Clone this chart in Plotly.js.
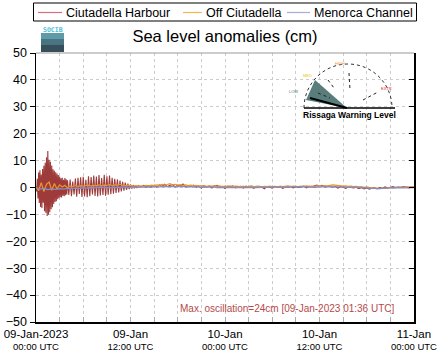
<!DOCTYPE html>
<html>
<head>
<meta charset="utf-8">
<script src="https://cdn.plot.ly/plotly-3.0.1.min.js"></script>
<style>html,body{margin:0;padding:0;background:#fff}#chart{width:442px;height:359px}</style>
</head>
<body>
<div id="chart"></div>
<script>
// ---- data (cm) ----
// Ciutadella Harbour: 0-4 h every 5 min
const harbourA = [0.5,-1.5,3.2,-4.1,5.6,-5.8,6.4,-7.2,4.8,-7.6,6.9,-5.7,8.1,-8.8,9.2,-9.4,11.2,-10.6,13.6,-10.1,10.3,-9.2,9.6,-8.1,8.2,-7.3,6.8,-6.1,6.2,-5.4,5.7,-5.1,5.2,-4.4,4.6,-4.0,4.1,-3.6,3.4,-3.7,3.6,-3.1,2.9,-3.2,3.5,-2.9,3.1,-2.6,2.7];
// 4h10 - 13h every 10 min
const harbourB = [-2.8,3.0,-3.2,2.2,-2.6,3.3,-3.4,3.6,-2.4,3.8,-3.5,4.0,-3.3,2.9,-3.6,4.2,-3.2,3.9,-2.6,4.4,-3.1,4.1,-3.3,4.6,-3.0,3.5,-2.8,4.7,-3.1,4.2,-2.7,4.4,-2.5,3.6,-2.3,3.2,-2.0,3.0,-1.8,2.6,-1.5,2.1,-1.2,1.8,-0.9,1.4,-0.6,1.1,-0.4,0.9,-0.3,0.8,-0.2,0.7];
// 13h20 - 48h every 20 min
const harbourC = [0.2,0.8,0.1,0.7,0.3,0.9,0.2,1.0,0.4,1.2,0.3,0.8,1.1,0.2,0.9,0.5,1.3,0.2,0.7,0.4,0.9,
  0.1,0.6,-0.3,0.7,0.2,0.5,-0.2,0.6,0.8,0.0,0.4,-0.4,0.5,0.2,0.6,-0.1,0.3,0.4,-0.2,0.5,
  0.1,0.3,-0.3,0.4,0.0,0.2,-0.5,0.3,0.1,-0.2,0.4,0.0,0.3,-0.3,0.2,0.1,0.4,-0.1,0.3,0.0,
  0.2,0.5,-0.1,0.4,0.3,0.7,0.9,0.4,0.8,0.2,0.5,0.6,0.1,0.4,-0.2,0.3,0.1,-0.3,0.2,0.0,
  -0.2,0.1,-0.4,0.0,-0.5,-0.2,-0.6,-0.3,-0.1,-0.5,0.0,-0.3,0.2,-0.2,0.1,0.3,-0.1,0.2,0.0,0.3,
  0.1,-0.2,0.2,0.1];
// Off Ciutadella: every 20 min from 00:00
const offCiutadella = [0.3,-1.2,1.8,-1.5,1.2,2.0,-1.0,1.5,-0.6,1.0,
  0.2,0.8,-0.2,0.6,0.3,0.9,0.4,0.7,0.5,
  0.6,0.9,0.5,0.8,0.7,1.0,0.6,0.9,0.8,1.1,0.7,1.0,0.9,1.2,0.8,0.7,0.9,0.6,
  0.5,0.7,0.4,0.6,0.5,0.8,0.6,0.9,0.7,1.0,0.8,1.2,0.9,1.1,1.4,1.0,1.2,0.9,
  1.1,0.8,1.0,0.7,0.9,0.6,0.8,0.5,0.7,0.6,0.4,0.6,0.5,0.7,0.4,0.6,0.3,0.5,
  0.4,0.6,0.3,0.5,0.4,0.3,0.5,0.2,0.4,0.6,0.3,0.4,0.5,0.2,0.4,0.3,0.5,0.3,
  0.4,0.2,0.5,0.3,0.4,0.6,0.3,0.5,0.4,0.3,0.5,0.4,0.6,0.4,0.5,0.3,0.6,0.4,
  0.5,0.7,0.6,0.8,1.0,0.9,0.7,0.6,0.5,0.6,0.4,0.5,0.3,0.4,0.2,0.3,0.1,0.2,
  0.0,-0.2,-0.1,-0.3,-0.4,-0.2,-0.3,-0.1,0.0,-0.2,0.1,0.0,0.2,0.1,0.3,0.2,0.1,0.2];
// Menorca Channel: every 30 min from 00:00
const menorcaChannel = [0.0,-0.6,-0.3,-0.8,-0.5,-0.7,-0.4,-0.6,-0.3,
  -0.4,-0.2,-0.3,-0.1,-0.2,0.0,-0.1,0.1,0.0,0.1,-0.1,0.0,0.1,0.0,0.1,0.0,
  0.1,0.0,0.1,0.2,0.1,0.3,0.2,0.3,0.4,0.3,0.4,0.3,0.4,0.2,0.3,0.2,0.3,0.1,0.2,0.1,0.2,0.0,0.1,0.0,
  0.1,0.0,-0.1,0.0,0.1,0.0,-0.1,0.0,0.1,0.0,0.1,0.2,0.1,0.0,0.1,0.2,0.1,0.2,0.3,0.2,0.1,0.2,0.1,0.2,
  0.3,0.4,0.3,0.2,0.3,0.2,0.1,0.2,0.1,0.0,-0.1,-0.2,-0.3,-0.2,-0.4,-0.3,-0.2,-0.3,-0.1,0.0,-0.1,0.0,0.1,0.0];
const seriesNames = ['Ciutadella Harbour','Off Ciutadella','Menorca Channel'];
const tickLabelsTop = ['09-Jan-2023','09-Jan','10-Jan','10-Jan','11-Jan'];
const tickLabelsBottom = ['00:00 UTC','12:00 UTC','00:00 UTC','12:00 UTC','00:00 UTC'];
const tickHours = [0,12,24,36,48];
const maxOscText = 'Max. oscillation=24cm [09-Jan-2023 01:36 UTC]';

// ---- build ----
const T0 = Date.UTC(2023,0,9,0,0,0);
const MIN = 60000;
function times(arr, startMin, stepMin){ return arr.map((_,i)=>T0+(startMin+i*stepMin)*MIN); }
const hx = times(harbourA,0,5).concat(times(harbourB,250,10), times(harbourC,800,20));
const hy = harbourA.concat(harbourB, harbourC);

const dataColors = ['rgb(158,58,58)','#e8962e','#8a8cc0'];
const legendColors = ['#d4707a','#f2b45a','#a8acd6'];

const traces = [
  {x:hx, y:hy, type:'scatter', mode:'lines', name:seriesNames[0], line:{color:dataColors[0], width:1.1}},
  {x:times(offCiutadella,0,20), y:offCiutadella, type:'scatter', mode:'lines', name:seriesNames[1], line:{color:dataColors[1], width:1.2}},
  {x:times(menorcaChannel,0,30), y:menorcaChannel, type:'scatter', mode:'lines', name:seriesNames[2], line:{color:dataColors[2], width:1.3}},
  {x:[T0], y:[0], yaxis:'y2', type:'scatter', mode:'markers', marker:{opacity:0}, hoverinfo:'skip'}
];

// pixel -> paper helpers (plot area 36..414 x 53..322)
const L=36,R=414,TOP=53,BOT=322;
const px = x => (x-L)/(R-L);
const py = y => (BOT-y)/(BOT-TOP);
const P = (pts)=> 'M'+pts.map(p=>px(p[0]).toFixed(4)+','+py(p[1]).toFixed(4)).join(' L')+' Z';

const k=0.5523, cx=348, cy=108, r=44;
const arcPath = `M${px(cx-r)},${py(cy)} C${px(cx-r)},${py(cy-r*k)} ${px(cx-r*k)},${py(cy-r)} ${px(cx)},${py(cy-r)} C${px(cx+r*k)},${py(cy-r)} ${px(cx+r)},${py(cy-r*k)} ${px(cx+r)},${py(cy)}`;

const fam = 'Liberation Sans, Arial, Helvetica, sans-serif';

// legend layout (pixel positions)
const legLines = [[38,62],[183,202],[287,310]];
const legText = [65,205,313];
const LEGY = 12.5;

const shapes = [
  {type:'line', xref:'paper', yref:'paper', x0:0, x1:1, y0:1, y1:1, line:{color:'#999', width:1}},
  {type:'rect', xref:'paper', yref:'paper', x0:px(33.5), x1:px(416.5), y0:py(3), y1:py(21), line:{color:'#000', width:1}, fillcolor:'rgba(255,255,255,0)'},
  {type:'rect', xref:'paper', yref:'paper', x0:px(41), x1:px(64), y0:py(39), y1:py(33), fillcolor:'#5f9aa8', line:{width:0}},
  {type:'rect', xref:'paper', yref:'paper', x0:px(41), x1:px(64), y0:py(45), y1:py(39), fillcolor:'#4a7482', line:{width:0}},
  {type:'rect', xref:'paper', yref:'paper', x0:px(41), x1:px(64), y0:py(52), y1:py(45), fillcolor:'#374f5b', line:{width:0}},
  {type:'path', xref:'paper', yref:'paper', path:arcPath, line:{color:'#333', width:1, dash:'dot'}},
  {type:'path', xref:'paper', yref:'paper', path:P([[306,100],[315,80],[347,108]]), fillcolor:'#587d7b', line:{width:0}},
  {type:'line', xref:'paper', yref:'paper', x0:px(310), y0:py(98), x1:px(347), y1:py(108), line:{color:'#000', width:2}},
  {type:'line', xref:'paper', yref:'paper', x0:px(304), y0:py(108), x1:px(395), y1:py(108), line:{color:'#000', width:1.5}},
  {type:'line', xref:'paper', yref:'paper', x0:px(318), y0:py(93), x1:px(330), y1:py(98), line:{color:'#222', width:1, dash:'dot'}},
  {type:'line', xref:'paper', yref:'paper', x0:px(328), y0:py(80), x1:px(334), y1:py(88), line:{color:'#222', width:1, dash:'dot'}},
  {type:'line', xref:'paper', yref:'paper', x0:px(349), y0:py(73), x1:px(350), y1:py(90), line:{color:'#222', width:1, dash:'dot'}},
  {type:'line', xref:'paper', yref:'paper', x0:px(363), y0:py(100), x1:px(378), y1:py(92), line:{color:'#222', width:1, dash:'dot'}}
];
legLines.forEach((l,i)=>shapes.push({type:'line', xref:'paper', yref:'paper', x0:px(l[0]), x1:px(l[1]), y0:py(LEGY), y1:py(LEGY), line:{color:legendColors[i], width:1.2}}));

const annotations = [
  {xref:'paper', yref:'paper', x:px(396), y:py(308), xanchor:'right', yanchor:'middle', showarrow:false,
   text:maxOscText, font:{family:fam, size:10, color:'#b54a4a'}},
  {xref:'paper', yref:'paper', x:px(349.5), y:py(115), xanchor:'center', yanchor:'middle', showarrow:false,
   text:'<b>Rissaga Warning Level</b>', font:{family:fam, size:8.5, color:'#000'}},
  {xref:'paper', yref:'paper', x:px(52.5), y:py(29.5), xanchor:'center', yanchor:'middle', showarrow:false,
   text:'<b>SOCIB</b>', font:{family:'DejaVu Sans Mono, monospace', size:6.5, color:'#4ebdd4'}},
  {xref:'paper', yref:'paper', x:px(300), y:py(87), showarrow:false, text:'LOW', font:{size:4, color:'#4a7a78'}},
  {xref:'paper', yref:'paper', x:px(314), y:py(71), showarrow:false, text:'MED', font:{size:4, color:'#e8c800'}},
  {xref:'paper', yref:'paper', x:px(347), y:py(59), showarrow:false, text:'HIGH', font:{size:4, color:'#f0902a'}},
  {xref:'paper', yref:'paper', x:px(394), y:py(84), showarrow:false, text:'EXTR', font:{size:4, color:'#e02020'}}
];
seriesNames.forEach((n,i)=>annotations.push({xref:'paper', yref:'paper', x:px(legText[i]), y:py(LEGY), xanchor:'left', yanchor:'middle',
  showarrow:false, text:n, font:{family:fam, size:12.5, color:'#000'}, borderpad:0}));

const layout = {
  width:442, height:359,
  margin:{l:L, r:442-R, t:TOP, b:359-BOT, pad:0, autoexpand:false},
  paper_bgcolor:'#fff', plot_bgcolor:'#fff',
  font:{family:fam, color:'#000', size:12},
  title:{text:'Sea level anomalies (cm)', font:{family:fam, size:16.5, color:'#000'}, x:0.5, xanchor:'center', xref:'paper', y:1-36/359, yanchor:'middle'},
  showlegend:false,
  xaxis:{type:'date', range:[T0, T0+48*60*MIN], tickmode:'array',
    tickvals:tickHours.map(h=>T0+h*60*MIN),
    ticktext:tickLabelsTop.map((t,i)=>'<span style="font-size:11.5px">'+t+'</span><br>'+tickLabelsBottom[i]),
    ticks:'inside', ticklen:5, tickcolor:'#aaa', showline:true, linecolor:'#000', linewidth:1.5,
    showgrid:true, gridcolor:'#ccc', griddash:'dot', gridwidth:1, zeroline:false, ticklabelstandoff:3,
    tickfont:{family:fam, size:9.5, color:'#000'},
    minor:{tickmode:'linear', tick0:T0, dtick:3*60*MIN, ticks:'inside', ticklen:5, tickcolor:'#aaa', showgrid:true, gridcolor:'#ccc', griddash:'dot', gridwidth:1},
    fixedrange:true},
  yaxis:{range:[-50,50], tickmode:'linear', tick0:-50, dtick:10, ticks:'outside', ticklen:5, tickcolor:'#000',
    showline:true, linecolor:'#000', linewidth:1.5, showgrid:true, gridcolor:'#ccc', griddash:'dot', gridwidth:1,
    zeroline:false, tickfont:{family:fam, size:12.5, color:'#000'}, fixedrange:true},
  yaxis2:{overlaying:'y', side:'right', range:[-50,50], tickmode:'linear', tick0:-50, dtick:10, ticks:'inside', ticklen:5,
    tickcolor:'#000', showline:true, linecolor:'#000', linewidth:1.5, showgrid:false, zeroline:false, showticklabels:false, fixedrange:true},
  shapes:shapes,
  annotations:annotations
};
Plotly.newPlot('chart', traces, layout, {staticPlot:true, displayModeBar:false});
</script>
</body>
</html>
